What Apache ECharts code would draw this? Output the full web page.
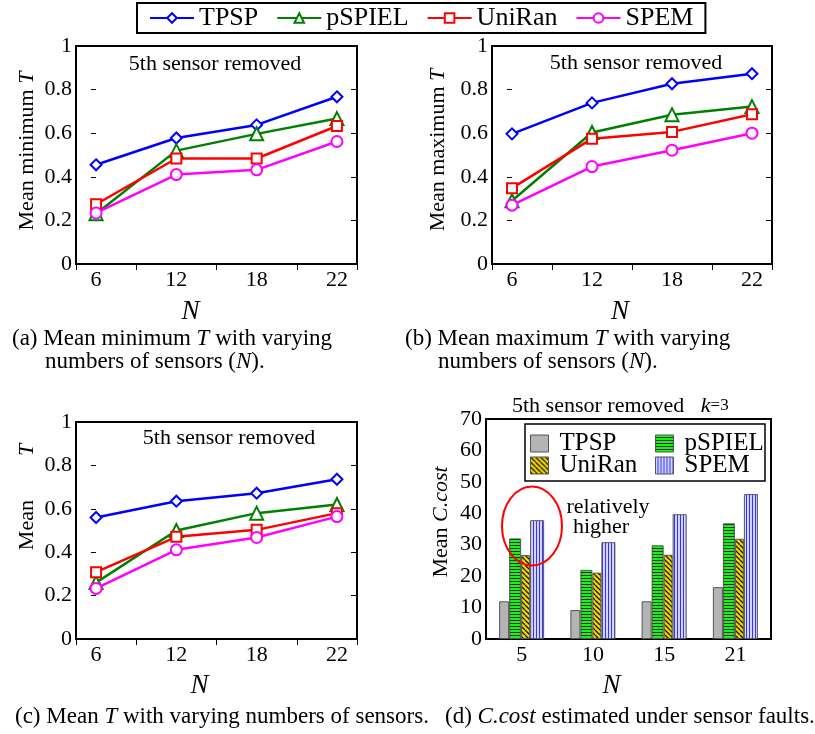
<!DOCTYPE html>
<html>
<head>
<meta charset="utf-8">
<script src="https://cdn.jsdelivr.net/npm/echarts@6/dist/echarts.min.js"></script>
<style>
html, body { margin: 0; padding: 0; background: #fff; }
#main { width: 815px; height: 734px; }
</style>
</head>
<body>
<div id="main"></div>
<script>
// data
var methods = ['TPSP', 'pSPIEL', 'UniRan', 'SPEM'];
var nLine = ['6', '12', '18', '22'];
var nBar = ['5', '10', '15', '21'];
// rows: TPSP, pSPIEL, UniRan, SPEM
var minT = [
    [0.455, 0.578, 0.638, 0.767],
    [0.231, 0.52, 0.597, 0.667],
    [0.274, 0.484, 0.484, 0.633],
    [0.234, 0.41, 0.432, 0.562]
];
var maxT = [
    [0.597, 0.739, 0.827, 0.873],
    [0.29, 0.603, 0.685, 0.722],
    [0.348, 0.575, 0.606, 0.687],
    [0.27, 0.447, 0.522, 0.6]
];
var meanT = [
    [0.56, 0.635, 0.672, 0.736],
    [0.26, 0.5, 0.58, 0.62],
    [0.308, 0.471, 0.503, 0.58],
    [0.233, 0.411, 0.468, 0.564]
];
var cCost = [
    [12, 9.2, 12, 16.5],
    [32, 22, 29.8, 36.8],
    [26.7, 21.1, 26.8, 31.9],
    [37.8, 30.8, 39.7, 46.1]
];

var FONT = '"Liberation Serif", "Times New Roman", serif';
var colors = ['#0000ff', '#008000', '#ff0000', '#ff00ff'];
var symbols = ['emptyDiamond', 'emptyTriangle', 'emptyRect', 'emptyCircle'];
var symSizes = [11, 13, 10, 11];

function pattern(w, h, paint) {
    var c = document.createElement('canvas');
    c.width = w;
    c.height = h;
    paint(c.getContext('2d'));
    return { image: c, repeat: 'repeat' };
}
var barFills = [
    '#b4b4b4',
    pattern(4, 3, function (g) {
        g.fillStyle = '#18f018'; g.fillRect(0, 0, 4, 3);
        g.fillStyle = '#0a300a'; g.fillRect(0, 2, 4, 1);
    }),
    pattern(5, 5, function (g) {
        g.fillStyle = '#f2d800'; g.fillRect(0, 0, 5, 5);
        g.strokeStyle = '#1a1a00'; g.lineWidth = 1.3;
        [-5, 0, 5].forEach(function (o) {
            g.beginPath(); g.moveTo(o, 0); g.lineTo(o + 5, 5); g.stroke();
        });
    }),
    pattern(3, 4, function (g) {
        g.fillStyle = '#d4d4ff'; g.fillRect(0, 0, 3, 4);
        g.fillStyle = '#3434ff'; g.fillRect(2, 0, 1, 4);
    })
];
var barWidths = [10, 12, 9, 14];

var grids = [
    { left: 76, top: 46, width: 281, height: 218 },
    { left: 492, top: 46, width: 280, height: 218 },
    { left: 76, top: 422, width: 281, height: 217 },
    { left: 486, top: 419, width: 285, height: 220 }
];

var italic = { fontStyle: 'italic', fontFamily: FONT, fontSize: 22, color: '#000' };

function nameStyle(size, pad, rich) {
    return { fontSize: size, fontFamily: FONT, color: '#000', padding: pad, rich: rich };
}

var xAxes = [], yAxes = [];
var yNames = ['Mean minimum {i|T}', 'Mean maximum {i|T}', 'Mean{g|T}', 'Mean {i|C.cost}'];
var yGaps = [38, 43, 38, 34];
var yPads = [[0, 0, 0, 8], [0, 0, 0, 10], [0, 0, 0, 67], [0, 0, 0, 14]];
var nPads = [[0, 52, 0, 0], [0, 24, 0, 0], [0, 34, 0, 0], [0, 34, 0, 0]];
var tickLabel = { fontSize: 22, fontFamily: FONT, color: '#000' };

for (var g = 0; g < 4; g++) {
    var isBar = g === 3;
    var xa = {
        gridIndex: g,
        name: 'N',
        nameLocation: 'middle',
        nameGap: g < 2 ? 34 : 33,
        nameTextStyle: { fontSize: 27, fontStyle: 'italic', fontFamily: FONT, color: '#000', padding: nPads[g] },
        axisLine: { show: false },
        splitLine: { show: false }
    };
    if (isBar) {
        xa.type = 'category';
        xa.data = nBar;
        xa.axisTick = { show: false };
        xa.axisLabel = Object.assign({ margin: 5 }, tickLabel);
    } else {
        xa.type = 'value';
        xa.min = -0.25;
        xa.max = 3.25;
        xa.axisTick = { show: true, length: 6, customValues: [-0.25, 0.5, 1.5, 2.5, 3.25], lineStyle: { color: '#000' } };
        xa.axisLabel = Object.assign({
            margin: 5,
            customValues: [0, 1, 2, 3],
            formatter: function (v) { return nLine[Math.round(v)]; }
        }, tickLabel);
    }
    xAxes.push(xa);

    var ymax = isBar ? 70 : 1, step = isBar ? 10 : 0.2;
    yAxes.push({
        type: 'value', gridIndex: g, min: 0, max: ymax, interval: step,
        name: yNames[g],
        nameLocation: 'middle',
        nameGap: yGaps[g],
        nameTextStyle: nameStyle(22, yPads[g], {
            i: italic,
            g: Object.assign({ padding: [0, 0, 0, 44] }, italic)
        }),
        axisLine: { show: false },
        splitLine: { show: false },
        axisTick: { length: 5, lineStyle: { color: '#000' } },
        axisLabel: Object.assign({ margin: 4 }, tickLabel)
    });
}
// mirrored ticks on the right edge of each panel
for (var r = 0; r < 4; r++) {
    yAxes.push({
        type: 'value', gridIndex: r, position: 'right',
        min: 0, max: r === 3 ? 70 : 1, interval: r === 3 ? 10 : 0.2,
        axisLine: { show: false },
        splitLine: { show: false },
        axisLabel: { show: false },
        axisTick: { inside: true, length: 6, lineStyle: { color: '#000' } }
    });
}

var series = [];
[minT, maxT, meanT].forEach(function (panel, p) {
    methods.forEach(function (name, k) {
        series.push({
            type: 'line',
            name: name,
            xAxisIndex: p,
            yAxisIndex: p,
            data: panel[k].map(function (v, i) { return [i, v]; }),
            symbol: symbols[k],
            symbolSize: symSizes[k],
            lineStyle: { width: 2.5, color: colors[k] },
            itemStyle: { color: colors[k], borderWidth: 2 },
            animation: false
        });
    });
});
methods.forEach(function (name, k) {
    series.push({
        type: 'bar',
        name: name + ' ',
        xAxisIndex: 3,
        yAxisIndex: 3,
        data: cCost[k],
        barWidth: barWidths[k],
        barGap: '0%',
        itemStyle: { color: barFills[k], borderColor: '#555', borderWidth: 1 },
        animation: false
    });
});

function txt(x, y, text, size, extra) {
    return Object.assign({
        type: 'text', x: x, y: y, z: 50,
        style: {
            text: text, fontSize: size, fontFamily: FONT, fill: '#000',
            align: 'left', textAlign: 'left', verticalAlign: 'middle', textVerticalAlign: 'middle',
            rich: {
                i: { fontStyle: 'italic', fontSize: size, fontFamily: FONT, fill: '#000' },
                s: { fontSize: size - 5, fontFamily: FONT, fill: '#000' }
            }
        }
    }, extra || {});
}
function ctxt(x, y, text, size) {
    var t = txt(x, y, text, size);
    t.style.align = 'center';
    t.style.textAlign = 'center';
    return t;
}

var graphics = [
    ctxt(215, 64, '5th sensor removed', 22),
    ctxt(636, 63, '5th sensor removed', 22),
    ctxt(229, 438, '5th sensor removed', 22),
    txt(512, 406, '5th sensor removed   {i|k}{s|=3}', 22),
    {
        type: 'rect', z: 5,
        shape: { x: 525, y: 424, width: 240, height: 57 },
        style: { fill: '#fff', stroke: '#000', lineWidth: 1.5 }
    },
    {
        type: 'ellipse', z: 60,
        shape: { cx: 532, cy: 526, rx: 30, ry: 39.5 },
        style: { fill: 'none', stroke: '#ff0000', lineWidth: 2 }
    },
    ctxt(608, 507, 'relatively', 22),
    ctxt(601, 527, 'higher', 22),
    txt(12, 339, '(a) Mean minimum {i|T} with varying', 23),
    txt(45, 362, 'numbers of sensors ({i|N}).', 23),
    txt(405, 339, '(b) Mean maximum {i|T} with varying', 23),
    txt(438, 362, 'numbers of sensors ({i|N}).', 23),
    txt(15, 717, '(c) Mean {i|T} with varying numbers of sensors.', 23),
    txt(445, 717, '(d) {i|C.cost} estimated under sensor faults.', 23)
];

var barLegend = {
    orient: 'vertical',
    top: 431,
    itemWidth: 18,
    itemHeight: 17,
    itemGap: -3,
    icon: 'rect',
    padding: 0,
    z: 20,
    formatter: function (n) { return n.trim(); },
    textStyle: { fontSize: 25, fontFamily: FONT, color: '#000', padding: [0, 0, 0, 6] },
    itemStyle: { borderColor: '#555', borderWidth: 1 }
};

var option = {
    backgroundColor: '#fff',
    animation: false,
    grid: grids.map(function (gd) {
        return Object.assign({ show: true, borderColor: '#000', borderWidth: 2, backgroundColor: 'transparent' }, gd);
    }),
    legend: [
        {
            data: methods,
            left: 137,
            top: 3,
            padding: [2, 12],
            itemGap: 18,
            itemWidth: 44,
            itemHeight: 12,
            borderColor: '#000',
            borderWidth: 2,
            textStyle: { fontSize: 26, fontFamily: FONT, color: '#000' }
        },
        Object.assign({ left: 530, data: ['TPSP ', 'UniRan '] }, barLegend),
        Object.assign({ left: 655, data: ['pSPIEL ', 'SPEM '] }, barLegend)
    ],
    xAxis: xAxes,
    yAxis: yAxes,
    series: series,
    graphic: graphics
};

var chart = echarts.init(document.getElementById('main'));
chart.setOption(option);
</script>
</body>
</html>
